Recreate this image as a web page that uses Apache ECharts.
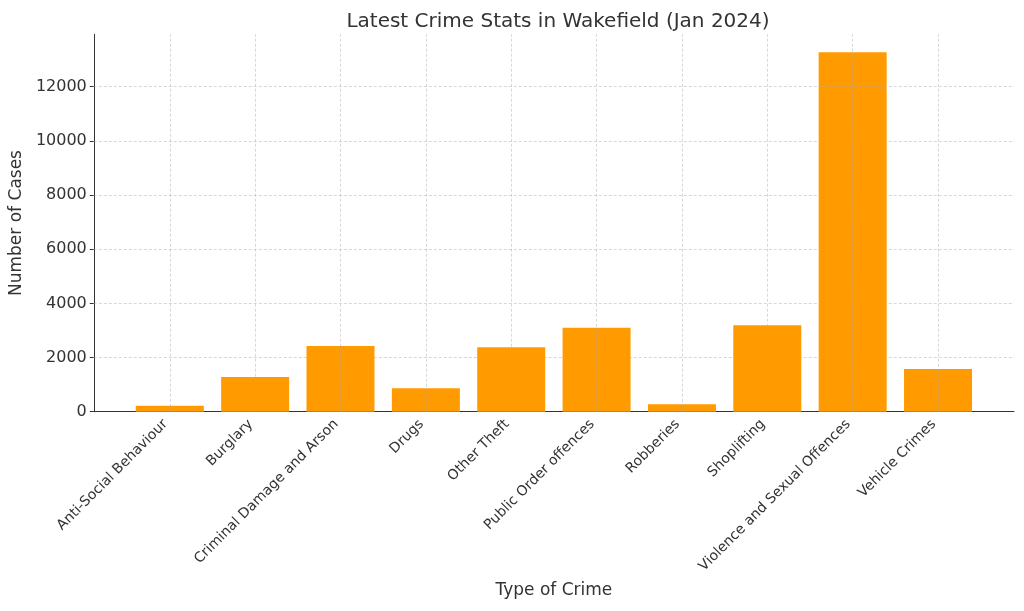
<!DOCTYPE html>
<html>
<head>
<meta charset="utf-8">
<script src="https://cdn.jsdelivr.net/npm/echarts@6/dist/echarts.min.js"></script>
<style>
html,body{margin:0;padding:0;background:#fff;}
#chart{width:1024px;height:611px;}
</style>
</head>
<body>
<div id="chart"></div>
<script>
const categories = ["Anti-Social Behaviour","Burglary","Criminal Damage and Arson","Drugs","Other Theft","Public Order offences","Robberies","Shoplifting","Violence and Sexual Offences","Vehicle Crimes"];
const cases = [222, 1281, 2426, 864, 2378, 3101, 273, 3190, 13270, 1577];
const yTicks = [0, 2000, 4000, 6000, 8000, 10000, 12000];
const xTicks = categories.map((c, i) => i);

const FONT = "DejaVu Sans";
const TXT = "#333333";
const gridColor = "rgba(170,170,170,0.6)";

const chart = echarts.init(document.getElementById('chart'), null, {renderer: 'canvas'});
chart.setOption({
  animation: false,
  backgroundColor: '#ffffff',
  title: {
    text: 'Latest Crime Stats in Wakefield (Jan 2024)',
    left: 553, textAlign: 'center', top: 7,
    textStyle: {fontFamily: FONT, fontSize: 20, fontWeight: 'normal', color: TXT}
  },
  grid: {left: 93, right: 10, top: 34.3, bottom: 199.3, containLabel: false},
  xAxis: {
    type: 'value', min: -0.89, max: 9.89,
    name: 'Type of Crime', nameLocation: 'middle', nameGap: 170,
    nameTextStyle: {fontFamily: FONT, fontSize: 17, color: TXT},
    axisLine: {show: true, onZero: false, lineStyle: {color: TXT, width: 1}},
    axisTick: {show: true, inside: true, length: 4, customValues: xTicks, lineStyle: {color: TXT}},
    axisLabel: {
      customValues: xTicks, rotate: 45, margin: 6, padding: [0, 6, 0, 0],
      fontFamily: FONT, fontSize: 14, color: TXT,
      formatter: v => (Number.isInteger(v) && categories[v] !== undefined) ? categories[v] : ''
    },
    splitLine: {show: false}
  },
  yAxis: {
    type: 'value', min: 0, max: 13934,
    name: 'Number of Cases', nameLocation: 'middle', nameGap: 67,
    nameTextStyle: {fontFamily: FONT, fontSize: 17, color: TXT},
    axisLine: {show: true, onZero: false, lineStyle: {color: TXT, width: 1}},
    axisTick: {show: true, inside: false, length: 4, customValues: yTicks, lineStyle: {color: TXT}},
    axisLabel: {
      customValues: yTicks, margin: 7,
      fontFamily: FONT, fontSize: 16, color: TXT,
      formatter: v => yTicks.indexOf(v) >= 0 ? String(v) : ''
    },
    splitLine: {show: false}
  },
  series: [{
    type: 'bar',
    data: cases.map((v, i) => [i, v]),
    barWidth: 68,
    itemStyle: {color: '#ff9a00'},
    markLine: {
      silent: true, symbol: 'none', animation: false,
      label: {show: false},
      lineStyle: {color: gridColor, type: [3, 2], width: 0.8},
      data: xTicks.map(i => ({xAxis: i})).concat(yTicks.filter(v => v > 0).map(v => ({yAxis: v})))
    }
  }]
});
</script>
</body>
</html>
